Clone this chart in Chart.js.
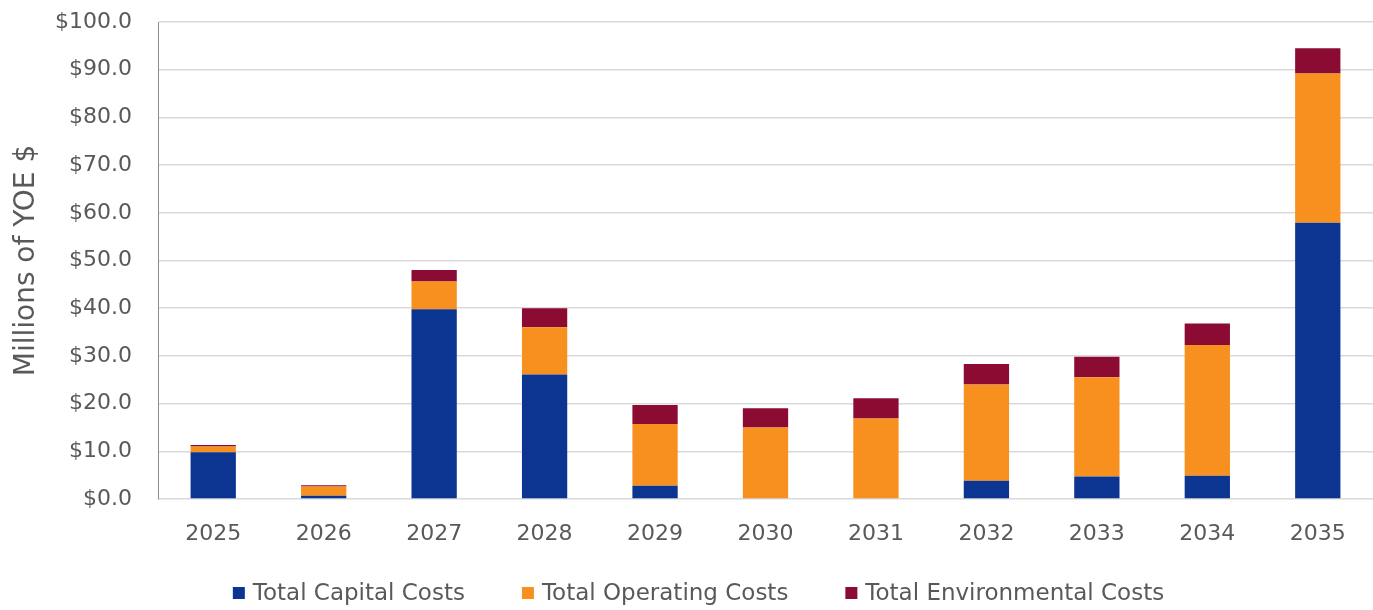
<!DOCTYPE html>
<html>
<head>
<meta charset="utf-8">
<script src="https://cdn.jsdelivr.net/npm/chart.js@4"></script>
<style>
  html, body { margin: 0; padding: 0; background: #ffffff; }
  #wrap { width: 1373px; height: 610px; position: relative; }
</style>
</head>
<body>
<div id="wrap"><canvas id="chart"></canvas></div>
<script>
// Annual cost breakdown, millions of year-of-expenditure dollars
const years = ['2025', '2026', '2027', '2028', '2029', '2030', '2031', '2032', '2033', '2034', '2035'];
const capitalCosts = [9.8, 0.7, 39.8, 26.1, 2.8, 0, 0, 3.8, 4.7, 4.9, 57.9];
const operatingCosts = [1.2, 1.9, 5.8, 9.9, 12.9, 15.0, 16.9, 20.2, 20.8, 27.4, 31.3];
const environmentalCosts = [0.3, 0.3, 2.4, 4.0, 4.0, 4.0, 4.2, 4.3, 4.3, 4.5, 5.3];
const seriesNames = ['Total Capital Costs', 'Total Operating Costs', 'Total Environmental Costs'];
const seriesColors = ['#0B3591', '#F7901E', '#8C0B33'];
const yTickValues = [0, 10, 20, 30, 40, 50, 60, 70, 80, 90, 100];

const FONT = 'DejaVu Sans';
const TEXT = '#595959';

// Legend drawn on the canvas below the axis
const bottomLegend = {
  id: 'bottomLegend',
  afterDraw(chart) {
    const ctx = chart.ctx;
    const sets = chart.data.datasets;
    ctx.save();
    ctx.font = '23px "' + FONT + '"';
    ctx.textBaseline = 'middle';
    const box = 12, gapBox = 8, gapItem = 57;
    const widths = sets.map(d => box + gapBox + ctx.measureText(d.label).width);
    const total = widths.reduce((a, b) => a + b, 0) + gapItem * (sets.length - 1);
    let x = chart.width / 2 + 12 - total / 2;
    const y = 593;
    sets.forEach((d, i) => {
      ctx.fillStyle = d.backgroundColor;
      ctx.fillRect(x, y - box / 2, box, box);
      ctx.fillStyle = TEXT;
      ctx.fillText(d.label, x + box + gapBox, y + 1);
      x += widths[i] + gapItem;
    });
    ctx.restore();
  }
};

new Chart(document.getElementById('chart'), {
  type: 'bar',
  data: {
    labels: years,
    datasets: [
      { label: seriesNames[0], data: capitalCosts, backgroundColor: seriesColors[0] },
      { label: seriesNames[1], data: operatingCosts, backgroundColor: seriesColors[1] },
      { label: seriesNames[2], data: environmentalCosts, backgroundColor: seriesColors[2] }
    ]
  },
  options: {
    responsive: true,
    maintainAspectRatio: false,
    animation: false,
    layout: { padding: { top: 22, bottom: 55, left: 0, right: 0 } },
    datasets: { bar: { barPercentage: 0.41, categoryPercentage: 1.0 } },
    plugins: {
      legend: { display: false },
      tooltip: { enabled: false }
    },
    scales: {
      x: {
        stacked: true,
        grid: { display: false, drawTicks: false },
        border: { display: false },
        ticks: { color: TEXT, font: { family: FONT, size: 22 }, padding: 22, maxRotation: 0 },
        afterFit(scale) { scale.height = 56; }
      },
      y: {
        stacked: true,
        min: 0,
        max: 100,
        afterBuildTicks(scale) { scale.ticks = yTickValues.map(v => ({ value: v })); },
        grid: { color: '#d9d9d9', lineWidth: 1.5, drawTicks: true, tickLength: 26, tickColor: 'rgba(0,0,0,0)' },
        border: { display: true, color: '#8c8c8c', width: 1 },
        ticks: {
          color: TEXT,
          font: { family: FONT, size: 22 },
          padding: 0,
          callback: v => '$' + Number(v).toFixed(1)
        },
        title: {
          display: true,
          text: 'Millions of YOE $',
          color: TEXT,
          font: { family: FONT, size: 28 },
          padding: { top: 10, bottom: 0 }
        },
        afterFit(scale) { scale.width = 158; }
      }
    }
  },
  plugins: [bottomLegend]
});
</script>
</body>
</html>
